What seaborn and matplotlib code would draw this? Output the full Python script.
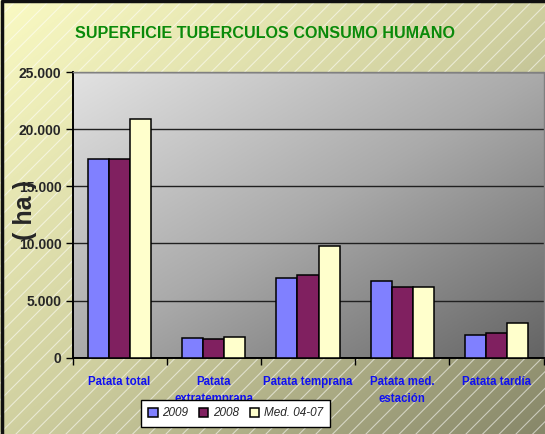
import numpy as np
import pandas as pd
import seaborn as sns
from matplotlib import pyplot as plt
from matplotlib.patches import Rectangle
from matplotlib.ticker import FuncFormatter, FixedLocator

# Data (ha)
categories = ["Patata total", "Patata\nextratemprana", "Patata temprana",
              "Patata med.\nestación", "Patata tardía"]
series = ["2009", "2008", "Med. 04-07"]
v2009 = [17400, 1700, 7000, 6700, 1950]
v2008 = [17350, 1680, 7200, 6200, 2200]
vmed = [20900, 1840, 9750, 6150, 3050]
colors = ["#8080FF", "#802060", "#FFFFCC"]

df = pd.DataFrame({
    "cat": categories * 3,
    "serie": [s for s in series for _ in categories],
    "val": v2009 + v2008 + vmed,
})

sns.set_style("white")
plt.rcParams["font.family"] = ["Liberation Sans", "DejaVu Sans"]
plt.rcParams["hatch.linewidth"] = 0.8

W, H = 545, 434
fig = plt.figure(figsize=(W / 100, H / 100), dpi=100)


def diag_gradient(stops, n=200):
    x = np.linspace(0, 1, n)
    t = (x[None, :] + x[:, None]) / 2
    pos = np.linspace(0, 1, len(stops))
    stops = np.array(stops) / 255
    return np.stack([np.interp(t, pos, stops[:, k]) for k in range(3)], axis=-1)


# figure background: yellow gradient + diagonal hatch
bg = fig.add_axes([0, 0, 1, 1], zorder=-2)
bg.imshow(diag_gradient([(250, 250, 195), (208, 208, 160), (135, 135, 105)]),
          extent=[0, 1, 0, 1], aspect="auto", origin="upper")
bg.add_patch(Rectangle((0, 0), 1, 1, facecolor="none", hatch="//",
                       edgecolor=(1, 1, 1, 0.55), linewidth=0))
bg.plot([0.003, 0.003, 1], [0, 0.997, 0.997], color="#101010", lw=2.5)
bg.set_xlim(0, 1)
bg.set_ylim(0, 1)
bg.axis("off")

# plot area
ax = fig.add_axes([72.5 / W, 1 - 357.7 / H, 471 / W, 285.7 / H])
ax.imshow(diag_gradient([(226, 226, 226), (170, 170, 170), (100, 100, 100)]),
          extent=[0, 1, 0, 1], transform=ax.transAxes, aspect="auto",
          origin="upper", zorder=0)

sns.barplot(data=df, x="cat", y="val", hue="serie", palette=colors,
            width=0.67, gap=0, edgecolor="black", linewidth=1.1,
            saturation=1, ax=ax, zorder=3)

ax.set_xlim(-0.5, 4.5)
ax.set_ylim(0, 25000)
ax.set_yticks(np.arange(0, 25001, 5000))
ax.yaxis.set_major_formatter(FuncFormatter(lambda v, p: f"{v:,.0f}".replace(",", ".")))
ax.grid(axis="y", color="#202020", linewidth=1, zorder=1)
ax.set_axisbelow(True)

for s in ["left", "bottom"]:
    ax.spines[s].set_color("black")
    ax.spines[s].set_linewidth(1.4)
for s in ["top", "right"]:
    ax.spines[s].set_color("#808080")
    ax.spines[s].set_linewidth(1)

ax.tick_params(axis="y", length=5, width=1, color="black", direction="out",
               labelsize=10, pad=3, left=True)
for lab in ax.get_yticklabels():
    lab.set_fontweight("bold")

ax.xaxis.set_minor_locator(FixedLocator(np.arange(-0.5, 5, 1)))
ax.tick_params(axis="x", which="minor", length=5, width=1, color="black",
               direction="out", bottom=True)
ax.tick_params(axis="x", which="major", length=0, pad=13, labelsize=8.3,
               labelcolor="#1010F0")
for lab in ax.get_xticklabels():
    lab.set_fontweight("bold")
    lab.set_linespacing(1.6)

ax.set_xlabel("")
ax.set_ylabel("")
fig.text(25 / W, 1 - 210 / H, "( ha )", rotation=90, ha="center", va="center",
         fontsize=18, fontweight="bold")

title = fig.text(265 / W, 1 - 33 / H, "SUPERFICIE TUBERCULOS CONSUMO HUMANO",
                 ha="center", va="center", fontsize=14, fontweight="bold",
                 color="#0A8A0A")

# shrink the title to the width it has in the reference (~380 px)
fig.canvas.draw()
w = title.get_window_extent(fig.canvas.get_renderer()).width
title.set_fontsize(14 * 380 / w)

handles, labels = ax.get_legend_handles_labels()
ax.get_legend().remove()
leg = fig.legend(handles, labels, loc="center", bbox_to_anchor=(235.5 / W, 1 - 413.5 / H),
                 ncol=3, frameon=True, fancybox=False, framealpha=1,
                 edgecolor="black", handlelength=0.8, handleheight=0.8,
                 handletextpad=0.4, columnspacing=0.9, borderpad=0.6,
                 prop={"size": 8.5, "style": "italic"})
leg.get_frame().set_linewidth(1)

fig.savefig("out.png", dpi=100)
